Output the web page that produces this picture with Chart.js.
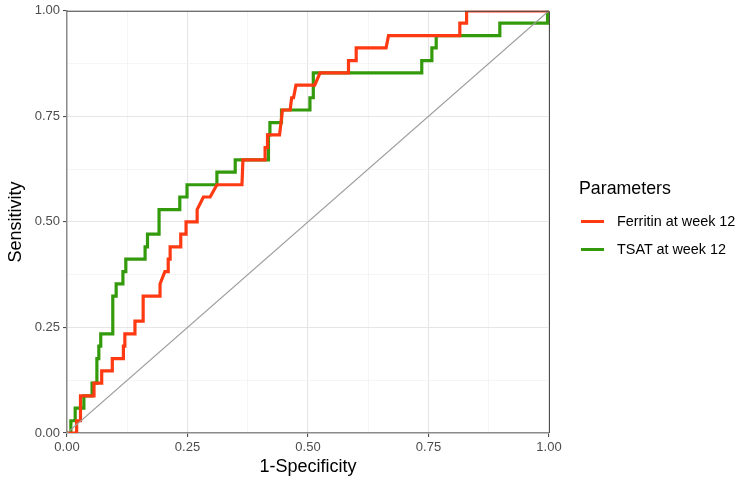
<!DOCTYPE html>
<html>
<head>
<meta charset="utf-8">
<script src="https://cdn.jsdelivr.net/npm/chart.js@4.4.0/dist/chart.umd.min.js"></script>
<style>
  html, body { margin: 0; padding: 0; background: #ffffff; }
  #wrap { position: relative; width: 750px; height: 488px; font-family: "Liberation Sans", Arial, sans-serif; }
  canvas { position: absolute; left: 0; top: 0; }
  .lg-title { position: absolute; left: 579px; top: 177px; font-size: 17.8px; color: #000; line-height: 22px; }
  .lg-item { position: absolute; left: 580px; height: 20px; width: 170px; }
  .lg-key { position: absolute; left: 1px; top: 8.5px; width: 23px; height: 3px; }
  .lg-text { position: absolute; left: 37px; top: 1px; font-size: 14.4px; line-height: 18px; color: #000; white-space: nowrap; }
</style>
</head>
<body>
<div id="wrap">
  <canvas id="c" width="750" height="488"></canvas>
  <div class="lg-title">Parameters</div>
  <div class="lg-item" style="top:211px"><div class="lg-key" style="background:#FF3A12"></div><div class="lg-text">Ferritin at week 12</div></div>
  <div class="lg-item" style="top:239px"><div class="lg-key" style="background:#339A0C"></div><div class="lg-text">TSAT at week 12</div></div>
</div>
<script>
// ---- data (1-Specificity, Sensitivity) ----
const seriesNames = ["Ferritin at week 12", "TSAT at week 12"];
const seriesColors = ["#FF3A12", "#339A0C"];

const fprFerritin = [0, .020, .020, .028, .028, .056, .056, .072, .072, .094, .094, .117, .117, .120, .120, .141, .141, .158, .158, .193,
  .193, .203, .210, .210, .214, .214, .236, .236, .247, .247, .270, .270, .283, .297, .311, .363, .365, .411, .411, .416,
  .416, .441, .447, .463, .466, .470, .475, .514, .525, .584, .584, .600, .600, .662, .667, .815, .815, .829, .829, 1];
const tprFerritin = [0, 0, .029, .029, .088, .088, .118, .118, .147, .147, .176, .176, .206, .206, .235, .235, .265, .265, .324, .324,
  .353, .382, .382, .412, .412, .441, .441, .471, .471, .5, .5, .529, .559, .559, .588, .588, .647, .647, .676, .676,
  .706, .706, .765, .765, .794, .794, .824, .824, .853, .853, .882, .882, .912, .912, .941, .941, .971, .971, 1, 1];

const fprTsat = [0, .008, .008, .017, .017, .035, .035, .052, .052, .062, .062, .066, .066, .070, .070, .095, .095, .102, .102, .116,
  .116, .122, .122, .162, .162, .167, .167, .191, .191, .234, .234, .249, .249, .311, .311, .349, .349, .418, .418, .421,
  .421, .445, .445, .504, .504, .511, .511, .736, .736, .757, .757, .766, .766, .898, .898, .997, .997, 1];
const tprTsat = [0, 0, .029, .029, .059, .059, .088, .088, .118, .118, .176, .176, .206, .206, .235, .235, .324, .324, .353, .353,
  .382, .382, .412, .412, .441, .441, .471, .471, .529, .529, .559, .559, .588, .588, .618, .618, .647, .647, .706, .706,
  .735, .735, .765, .765, .794, .794, .853, .853, .882, .882, .912, .912, .941, .941, .971, .971, 1, 1];

const refX = [0, 1];
const refY = [0, 1];

const axisTicks = [0, 0.25, 0.5, 0.75, 1];
const xTitle = "1-Specificity";
const yTitle = "Sensitivity";

function pts(xs, ys) { return xs.map((x, i) => ({ x: x, y: ys[i] })); }
function isMajor(v) { return axisTicks.some(t => Math.abs(t - v) < 1e-6); }

const borderPlugin = {
  id: 'panelBorder',
  afterDatasetsDraw(chart) {
    const { ctx, chartArea: a } = chart;
    ctx.save();
    ctx.strokeStyle = '#4D4D4D';
    ctx.lineWidth = 1;
    ctx.beginPath();
    ctx.moveTo(a.left, a.top + 0.5);
    ctx.lineTo(a.right + 0.5, a.top + 0.5);
    ctx.lineTo(a.right + 0.5, a.bottom);
    ctx.stroke();
    ctx.restore();
  }
};

const scaleCommon = (title, isX) => ({
  type: 'linear',
  min: 0, max: 1,
  ticks: {
    stepSize: 0.125,
    autoSkip: false,
    color: '#4D4D4D',
    font: { family: '"Liberation Sans", Arial, sans-serif', size: 13 },
    padding: 3,
    callback: v => isMajor(v) ? v.toFixed(2) : ''
  },
  grid: {
    color: c => isMajor(c.tick.value) ? '#E6E6E6' : '#F3F3F3',
    lineWidth: c => isMajor(c.tick.value) ? 1.1 : 0.8,
    tickColor: c => isMajor(c.tick.value) ? '#4D4D4D' : 'rgba(0,0,0,0)',
    tickLength: 4,
    drawTicks: true
  },
  border: { display: true, color: '#8A8A8A', width: 1.5 },
  title: {
    display: true,
    text: title,
    color: '#000',
    font: { family: '"Liberation Sans", Arial, sans-serif', size: 18 },
    padding: isX ? { top: 0, bottom: 10 } : { top: 5, bottom: 0 }
  },
  afterFit: s => { if (isX) s.height = 55; else s.width = 67; },
  afterBuildTicks: s => { s.ticks = [0, 0.125, 0.25, 0.375, 0.5, 0.625, 0.75, 0.875, 1].map(v => ({ value: v })); }
});

new Chart(document.getElementById('c'), {
  type: 'scatter',
  data: {
    datasets: [
      { label: 'ref', data: pts(refX, refY), showLine: true, borderColor: '#9E9E9E', borderWidth: 1.2, pointRadius: 0, fill: false },
      { label: seriesNames[0], data: pts(fprFerritin, tprFerritin), showLine: true, borderColor: seriesColors[0], borderWidth: 3.2, pointRadius: 0, fill: false, borderJoinStyle: 'miter', borderCapStyle: 'butt' },
      { label: seriesNames[1], data: pts(fprTsat, tprTsat), showLine: true, borderColor: seriesColors[1], borderWidth: 3.2, pointRadius: 0, fill: false, borderJoinStyle: 'miter', borderCapStyle: 'butt' }
    ]
  },
  options: {
    responsive: false,
    animation: false,
    devicePixelRatio: 1,
    layout: { padding: { top: 9, right: 201, left: 0, bottom: 0 } },
    plugins: { legend: { display: false }, tooltip: { enabled: false } },
    scales: {
      x: scaleCommon(xTitle, true),
      y: scaleCommon(yTitle, false)
    }
  },
  plugins: [borderPlugin]
});
</script>
</body>
</html>
